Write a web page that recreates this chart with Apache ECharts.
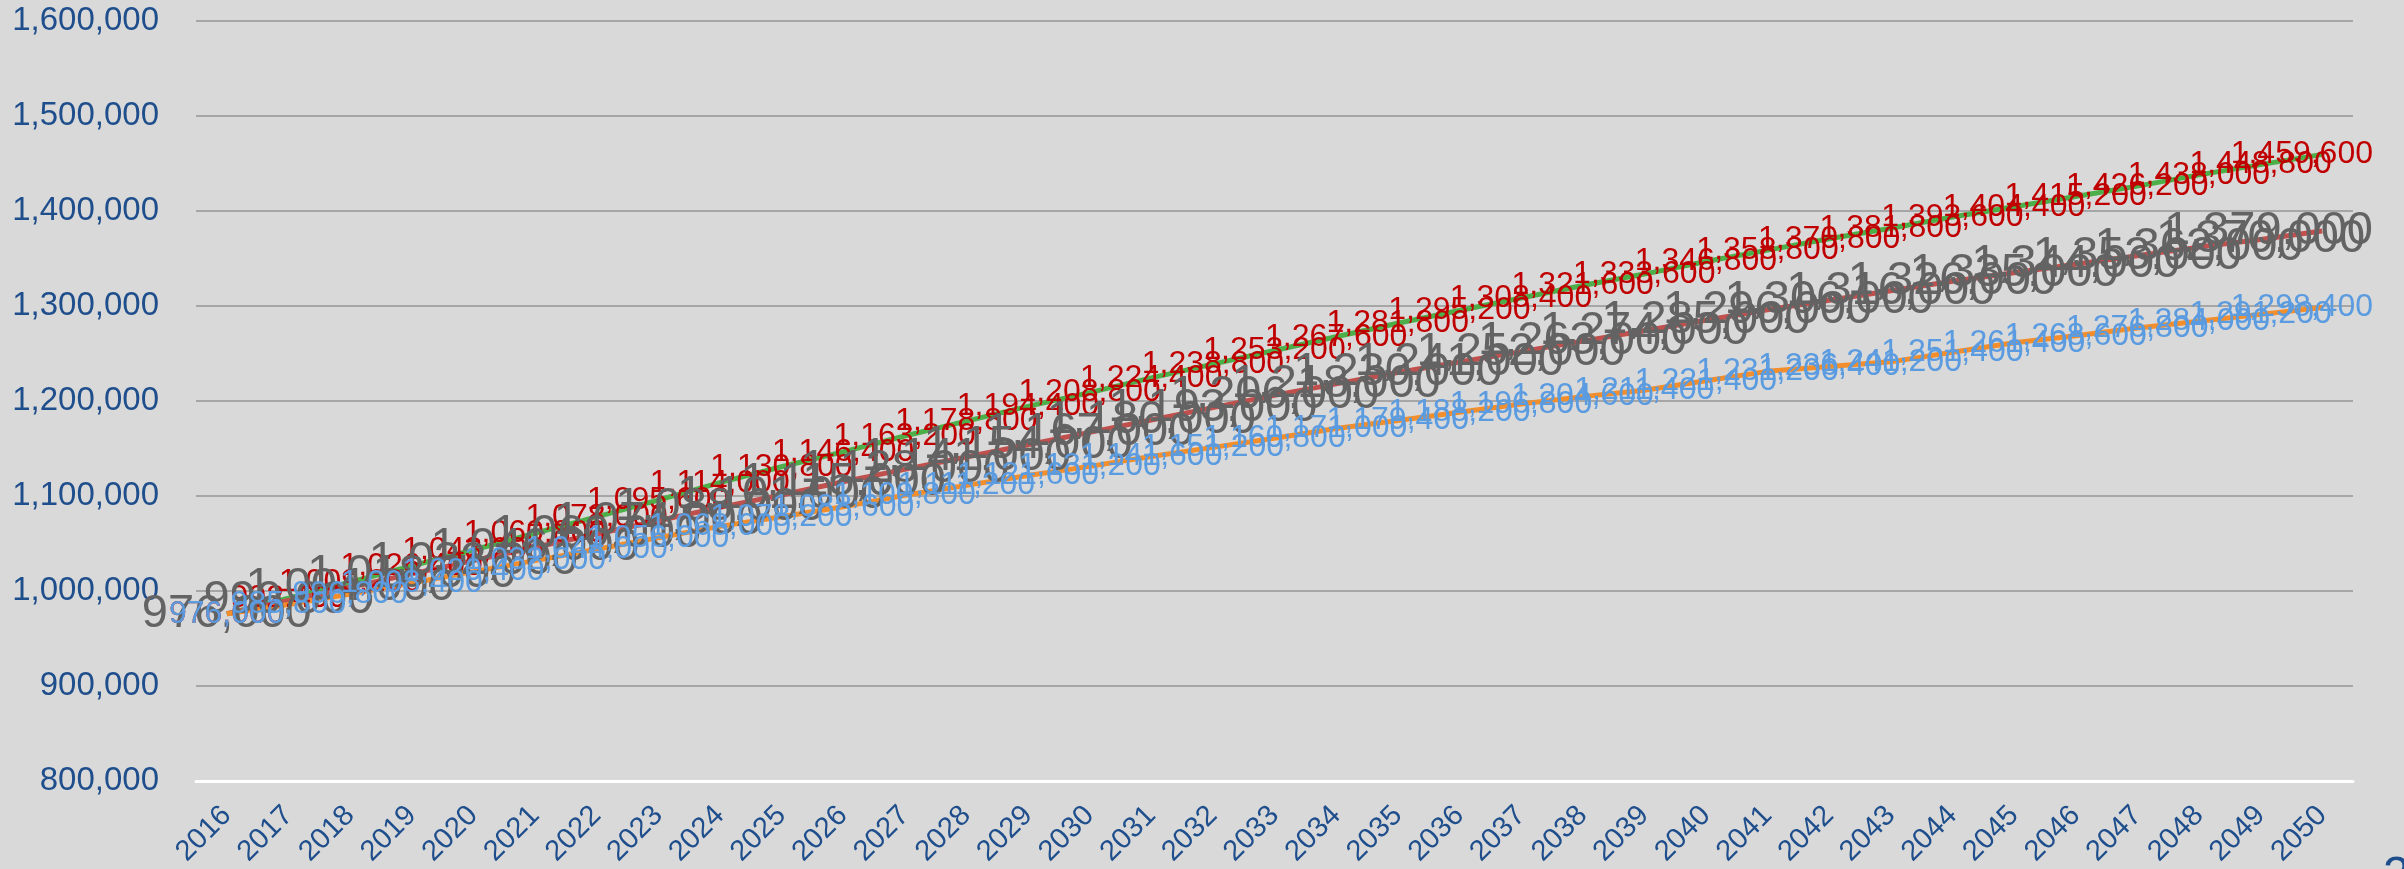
<!DOCTYPE html>
<html>
<head>
<meta charset="utf-8">
<script src="https://cdn.jsdelivr.net/npm/echarts@6/dist/echarts.min.js"></script>
<style>
html,body{margin:0;padding:0;background:#D9D9D9;}
#c{width:2404px;height:869px;}
</style>
</head>
<body>
<div id="c"></div>
<script>
var years = [];
for (var y = 2016; y <= 2050; y++) years.push(String(y));

var highValues = [976000, 992400, 1009200, 1026400, 1043200, 1060800, 1078000, 1095600, 1114000, 1130800,
  1146400, 1163200, 1178800, 1194400, 1208800, 1224400, 1238800, 1253200, 1267600, 1281800,
  1295200, 1308400, 1321600, 1333600, 1346800, 1358800, 1370800, 1381800, 1393600, 1404400,
  1415200, 1426200, 1438000, 1448800, 1459600];

var mediumValues = [976000, 990000, 1004000, 1018000, 1032000, 1046000, 1060000, 1074000, 1088000, 1101000,
  1115000, 1128000, 1141000, 1154000, 1167000, 1180000, 1193000, 1206000, 1218000, 1230000,
  1241000, 1252000, 1263000, 1274000, 1285000, 1296000, 1306000, 1316000, 1326000, 1335000,
  1344000, 1353000, 1362000, 1370000, 1379000];

var lowValues = [976000, 985800, 996800, 1008400, 1020400, 1032000, 1044000, 1056000, 1068000, 1078200,
  1088600, 1100800, 1111200, 1121600, 1131200, 1141600, 1151200, 1160800, 1171000, 1179400,
  1188200, 1196800, 1204600, 1211400, 1221400, 1231200, 1236400, 1241200, 1251400, 1261400,
  1268600, 1276800, 1284000, 1291200, 1298400];

var yTicks = { min: 800000, max: 1600000, step: 100000 };

function fmt(v) { return Number(v).toLocaleString('en-US'); }

var FONT = 'Liberation Sans, Arial, sans-serif';
var AXIS_BLUE = '#1F4E8C';

function lineSeries(name, data, lineColor, labelColor, labelSize) {
  return {
    name: name,
    type: 'line',
    data: data,
    symbol: 'circle',
    symbolSize: 0,
    showSymbol: true,
    showAllSymbol: true,
    lineStyle: { color: lineColor, width: 5 },
    itemStyle: { color: lineColor },
    label: {
      show: true,
      position: 'inside',
      color: labelColor,
      fontSize: labelSize,
      fontFamily: FONT,
      formatter: function (p) { return fmt(p.value); }
    },
    labelLayout: function (p) {
      var r = p.labelRect;
      var over = r.x + r.width - 2373;
      if (over > 0) return { dx: -over };
      return {};
    },
    emphasis: { disabled: true }
  };
}

var chart = echarts.init(document.getElementById('c'), null, { renderer: 'canvas' });
chart.setOption({
  animation: false,
  backgroundColor: '#D9D9D9',
  grid: { left: 196, right: 51, top: 21, bottom: 86, containLabel: false },
  xAxis: {
    type: 'category',
    data: years,
    boundaryGap: true,
    axisLine: { show: true, lineStyle: { color: '#FFFFFF', width: 3 } },
    axisTick: { show: false },
    axisLabel: {
      interval: 0,
      rotate: 45,
      margin: 30,
      color: AXIS_BLUE,
      fontSize: 29,
      fontFamily: FONT
    },
    splitLine: { show: false }
  },
  yAxis: {
    type: 'value',
    min: yTicks.min,
    max: yTicks.max,
    interval: yTicks.step,
    axisLine: { show: false },
    axisTick: { show: false },
    axisLabel: {
      margin: 37,
      color: AXIS_BLUE,
      fontSize: 33,
      fontFamily: FONT,
      formatter: function (v) { return fmt(v); }
    },
    splitLine: { show: true, lineStyle: { color: '#A6A6A6', width: 2 } }
  },
  graphic: [{
    type: 'text',
    left: 2383,
    top: 853,
    style: { text: '2', fill: AXIS_BLUE, font: '48px Liberation Sans' },
    silent: true
  }],
  series: [
    lineSeries('High', highValues, '#4DAF4A', '#C00000', 32),
    lineSeries('Medium', mediumValues, '#C0504D', '#636363', 47),
    lineSeries('Low', lowValues, '#F28E2B', '#5B9BE0', 32)
  ]
});
</script>
</body>
</html>
